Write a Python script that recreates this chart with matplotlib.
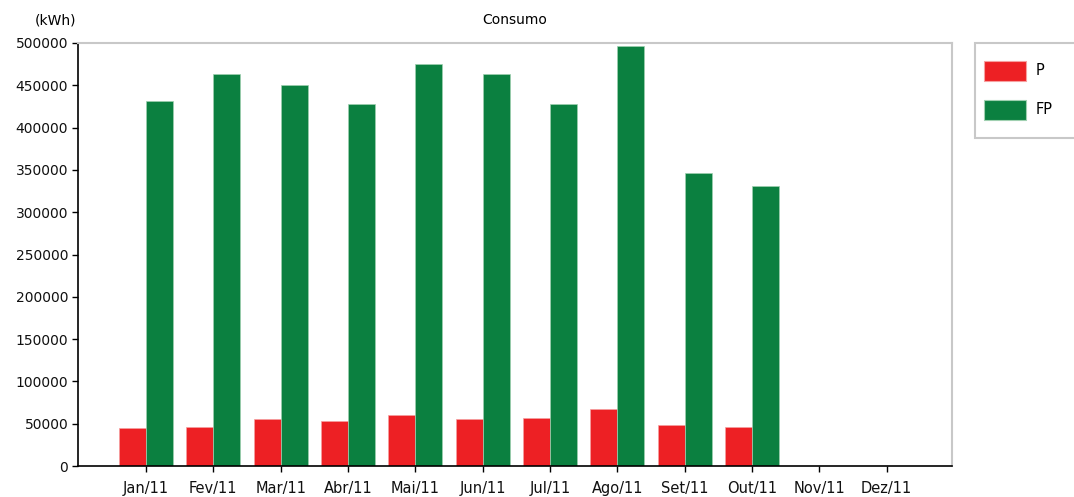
import matplotlib
matplotlib.use("Agg")
import matplotlib.pyplot as plt
from matplotlib.patches import Rectangle
import numpy as np

months = ["Jan/11", "Fev/11", "Mar/11", "Abr/11", "Mai/11", "Jun/11",
          "Jul/11", "Ago/11", "Set/11", "Out/11", "Nov/11", "Dez/11"]
ponta = [44500, 46100, 55100, 53200, 60200, 55100,
         56700, 67300, 48000, 45700, 0, 0]
fora_ponta = [432000, 463400, 450900, 428000, 475600, 463400,
              428400, 496900, 346500, 330700, 0, 0]
yticks = [0, 50000, 100000, 150000, 200000, 250000,
          300000, 350000, 400000, 450000, 500000]
series_labels = ["P", "FP"]

RED = "#ed2024"
GREEN = "#0b8040"
RED_EDGE = "#f6a0a0"
GREEN_EDGE = "#9fd0b0"

plt.rcParams["font.family"] = ["DejaVu Sans"]
plt.rcParams["font.size"] = 10

W, H = 1074, 497
fig = plt.figure(figsize=(W / 100, H / 100), dpi=100)
ax = fig.add_axes([78 / W, 31 / H, (952 - 78) / W, (466 - 43) / H])

x = np.arange(len(months))
w = 0.4
ax.bar(x - w / 2, ponta, width=w, color=RED, edgecolor=RED_EDGE, linewidth=0.5)
ax.bar(x + w / 2, fora_ponta, width=w, color=GREEN, edgecolor=GREEN_EDGE, linewidth=0.5)

ax.set_xlim(-1.01, 11.97)
ax.set_ylim(0, 500000)
ax.set_xticks(x)
ax.set_xticklabels(months, fontsize=10.5)
ax.set_yticks(yticks)
ax.set_yticklabels([str(v) for v in yticks])

ax.tick_params(axis="both", direction="out", length=4, width=1, color="black",
               labelcolor="#111111")
ax.tick_params(axis="x", pad=7)
ax.tick_params(axis="y", pad=3, labelsize=10)

for side in ("left", "bottom"):
    ax.spines[side].set_color("black")
    ax.spines[side].set_linewidth(1.2)
for side in ("top", "right"):
    ax.spines[side].set_color("#c8c8c8")
    ax.spines[side].set_linewidth(1.5)

fig.text(515 / W, 1 - 20 / H, "Consumo", ha="center", va="center", fontsize=10)
fig.text(55 / W, 1 - 20 / H, "(kWh)", ha="center", va="center", fontsize=10)

# Legend panel on the right, running off the figure edge
def px_rect(x0, y0, x1, y1, **kw):
    return Rectangle((x0 / W, 1 - y1 / H), (x1 - x0) / W, (y1 - y0) / H,
                     transform=fig.transFigure, **kw)

fig.add_artist(px_rect(975, 43, 1085, 138, facecolor="white",
                       edgecolor="#c8c8c8", linewidth=1.5))
for (y0, color, edge, label) in [(61, RED, RED_EDGE, series_labels[0]),
                                 (100, GREEN, GREEN_EDGE, series_labels[1])]:
    fig.add_artist(px_rect(984, y0, 1026, y0 + 20, facecolor=color,
                           edgecolor=edge, linewidth=0.8))
    fig.text(1036 / W, 1 - (y0 + 10) / H, label, ha="left", va="center",
             fontsize=10.5)

fig.savefig("out.png", dpi=100)
